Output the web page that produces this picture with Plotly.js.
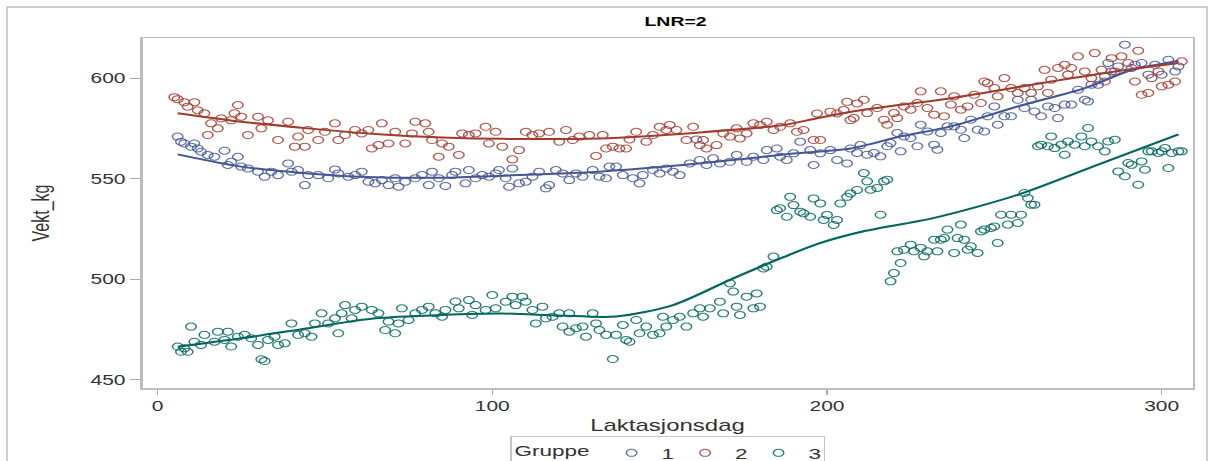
<!DOCTYPE html>
<html>
<head>
<meta charset="utf-8">
<script src="https://cdn.plot.ly/plotly-3.0.1.min.js"></script>
<style>
  html, body { margin: 0; padding: 0; background: #ffffff; overflow: hidden; }
  #wrap { position: absolute; left: 0; top: 0; width: 808px; height: 461px;
          transform: scaleX(1.5); transform-origin: 0 0; }
  #chart { width: 808px; height: 461px; }
  #frame { position: absolute; left: 6px; top: 6px; width: 1198px; height: 480px;
           border: 2px solid #cfcfcf; pointer-events: none; }
</style>
</head>
<body>
<div id="wrap"><div id="chart"></div></div>
<div id="frame"></div>
<script>
// Daily body weight (kg) by lactation day, three groups (LNR=2)
const days1 = [6,7,8,10,11,12,13,15,17,20,21,22,24,25,27,30,32,34,36,39,40,42,44,45,48,51,53,54,57,59,61,63,65,67,69,71,72,74,77,79,81,82,84,86,88,89,92,93,95,97,99,101,
  102,104,105,106,108,110,112,114,116,117,119,121,123,125,127,130,132,134,135,137,139,142,144,145,148,150,152,154,156,159,161,162,164,166,168,171,173,176,178,181,182,185,186,188,190,192,195,196,198,201,203,206,207,
  209,210,212,214,216,218,219,221,222,223,225,227,228,230,232,233,234,236,238,240,241,243,245,247,248,250,251,253,255,257,259,261,262,264,266,268,269,271,273,275,277,278,279,281,283,284,285,287,289,291,292,294,296,298,300,302,304,305];
const kg1 = [570.9,568.4,567.5,565.9,567.5,565,563.4,561.8,560.9,563.9,556.8,558.4,560.9,556,555.1,553.5,551,553.5,551.8,557.6,553.5,554.3,546.8,551.8,551.8,550.2,554.6,552.6,551,551.8,553.5,548.5,547.7,549.3,546.8,550.2,546,548.5,550.2,551.8,546.8,553.5,550.2,546.4,551.8,553.5,547.7,554.3,550.2,551.8,551,552.6,
  554.3,550.2,546,555.1,547.7,548.5,551,553.5,545.2,546.8,554.3,552.6,549.3,552.6,551,554.3,551,550.2,556,556,551.8,550.2,547.7,551.8,554.3,552.6,555.1,553.5,551.8,557.6,569.5,559.3,556.8,560.1,557.6,558.4,561.8,558.4,560.9,559.3,564.2,565,560.9,559.3,562.6,568.4,564.2,556.8,562.6,564.2,559.3,557.6,565,
  562.8,566.7,561.9,562.8,561.1,566.1,567.7,572.7,563.6,571,570.2,566.1,576.8,573.5,566.9,564.4,572.7,576,576,574.3,570.2,579.3,574.3,573.5,581,585.9,576.8,581,581,589.2,585.1,589.2,583.4,581,585.9,585.1,580.1,586.8,586.8,594.2,589.2,588.4,596.7,596.7,600.8,607.5,603.3,605.8,616.6,605,606.6,607.5,601.7,606.6,601.7,609.1,603.3,605.8];

const days2 = [5,6,8,9,11,12,14,15,16,18,19,22,23,24,25,27,30,31,33,36,39,41,42,44,45,48,50,53,54,56,59,61,63,64,66,67,69,71,74,76,77,80,81,82,84,85,87,90,91,93,95,98,99,101,103,
  106,108,110,112,114,117,120,122,124,126,129,131,133,134,136,138,140,141,143,146,148,150,152,153,155,158,160,162,163,164,167,169,171,173,174,176,178,180,182,184,186,189,191,193,196,198,197,201,203,205,206,207,209,
  208,211,212,215,217,218,220,221,223,225,227,228,230,232,234,235,237,238,240,242,244,246,247,248,250,251,253,255,257,259,261,263,265,266,267,269,271,272,273,275,277,279,280,282,283,285,286,288,290,292,293,294,296,297,299,300,302,304,306];
const kg2 = [590.5,589.5,588,585.8,588,584,582.5,571.7,577.5,575,580,579,582.5,586.6,580.8,571.7,580.8,575,579,569.2,578.3,565.9,570.9,565.9,574.2,569.2,573.3,577.5,569.2,571.7,574.2,572.5,574.2,565,566.7,577.5,567.5,573.3,567.5,572.5,578.3,577.5,573.3,569.2,560.9,567.5,565.9,561.8,572.5,571.7,572.5,575.8,567.5,573.3,565.9,
  559.6,564.2,573.3,571.7,572.5,573.3,568.4,574.2,569.2,570.9,571.7,561.3,571.7,565,565.9,565,565,569.5,573.3,568.4,571.7,575.8,574.2,576.7,574.2,569.2,575.8,566.7,569.2,565,566.7,572.5,570.9,575,570,572.5,577.5,576.7,578.3,574.2,575.8,577.5,573.3,574.2,569.2,569.2,582.4,583.3,582.4,584.1,588.2,579.1,587.4,
  580.1,589.2,582.6,585.1,579.3,576.8,582.6,580.1,585.9,584.3,587.6,593.4,585.1,581.8,593.4,581,586.8,590.9,584.3,585.9,591.7,587.6,598.3,597.5,595,590.9,600,595,592.6,595,592.6,595.9,604.1,592.6,599.2,605,606.6,601.7,605,610.8,603.3,600,612.4,604.1,598.3,609.9,603.3,610.8,607.5,598.3,613.6,591.7,592.6,600,603.3,595.9,596.7,598.3,608.3];

const days3 = [6,7,8,9,10,11,13,14,17,18,20,21,22,24,26,28,30,31,32,33,35,36,38,40,42,44,46,47,49,51,53,54,55,56,58,59,61,64,66,68,69,71,72,73,75,77,79,81,83,85,86,89,90,93,94,95,98,100,101,
  104,106,107,109,110,112,113,115,116,118,120,121,123,123,125,127,128,130,131,132,134,136,137,139,140,141,143,144,146,148,150,151,152,154,156,158,160,162,163,165,168,169,171,172,173,174,176,178,179,180,181,182,184,185,186,188,189,190,192,193,195,196,198,199,200,202,203,204,206,207,209,
  211,212,213,215,216,217,218,219,220,221,222,223,225,226,228,229,230,232,233,234,235,236,238,239,240,241,242,243,245,246,247,249,250,251,252,254,255,257,258,259,260,261,262,263,264,266,267,268,270,271,272,274,276,277,278,279,281,283,284,286,287,289,290,291,293,294,295,296,297,299,300,301,302,303,305,306];
const kg3 = [466.6,464,465.7,464,476.5,469,467.4,472.4,469,474,469.9,474,466.6,471.5,472.4,470.7,467.4,460.3,459.4,469.9,471.5,467.4,468.2,478.1,472.4,473.2,471.5,478.1,483.1,478.1,480.6,473.2,483.1,487.2,480.6,484.8,486.4,484.8,483.1,474.8,479,473.2,478.1,485.6,479.8,483.1,484.8,486.4,483.1,481.4,484.8,489,485.6,489.7,482.3,487.2,484.8,492.2,485.6,
  488.9,491.4,487.2,491.4,488.9,484.8,478.1,486.4,480.6,481.4,483.1,476.5,483.1,474,475.7,476.5,471.5,483.1,478.1,474.8,472.4,460.4,472.4,477.3,469.9,469,479.8,473.2,476.5,472.4,473.2,481.4,476.5,479.8,481.4,476.5,483.1,485.6,481.4,485.6,488.9,483.1,498,493.9,486.4,482.3,491.4,485.6,493,486.4,505.4,506.3,511.3,534.4,535.3,531.1,541,536.9,533.6,532.8,531.1,540.2,537.7,529.5,532,527,529.5,537.7,541,542.7,544.4,
  552.8,548.7,544.5,545.4,532.1,548.7,549.5,499,503.1,513.9,508.1,514.7,517.2,513.9,515.6,511.4,513.9,519.7,513.9,519.7,520.5,524.7,513.1,520.5,527.2,519.7,514.7,516.4,513.1,523.8,524.7,525.5,526.3,518.1,532.1,527.2,532.1,528,532.1,542.9,540.4,537.1,537.1,566.1,566.9,566.1,571,565.2,566.9,561.9,568.5,566.9,571,566.1,575.2,568.5,566.1,563.6,568.5,569.4,553.6,551.2,557.8,556.9,547,558.6,554.5,563.6,563.6,562.8,563.6,565.2,555.3,562.8,563.6,563.6];

// Smoothed trend per group
const fitDays1 = [6,25,45,65,85,103,132,152,172,190,207,222,237,257,277,291,305];
const fitKg1   = [562.1,556,552.6,550.7,550.5,551.5,553.5,556,559.3,562.5,565,571,576,585.9,595,604,608.5];
const fitDays2 = [6,25,45,65,85,103,132,162,187,197,210,237,267,286,305];
const fitKg2   = [582.5,578.3,575,572.2,570.5,569.8,570,573,576.7,580,584,590,598.3,603.3,607.5];
const fitDays3 = [6,25,45,65,85,103,120,137,154,172,187,197,210,232,257,281,305];
const fitKg3   = [466.5,470.7,475.7,480.6,482.3,483,482,481.5,487.2,500.5,511,517.5,523.5,530.5,542,557,572];

const groupNames = ['1', '2', '3'];
const groupColors = ['#445694', '#A23A2E', '#01665E'];
const xTicks = [0, 100, 200, 300];
const yTicks = [450, 500, 550, 600];

const pts = [[days1, kg1], [days2, kg2], [days3, kg3]];
const fits = [[fitDays1, fitKg1], [fitDays2, fitKg2], [fitDays3, fitKg3]];

const traces = [];
pts.forEach(([x, y], i) => {
  traces.push({
    type: 'scatter', mode: 'markers', x: x, y: y, name: groupNames[i],
    marker: { symbol: 'circle-open', size: 7, color: groupColors[i], opacity: 0.85,
              line: { width: 1, color: groupColors[i] } },
    showlegend: true
  });
});
fits.forEach(([x, y], i) => {
  traces.push({
    type: 'scatter', mode: 'lines', x: x, y: y, name: groupNames[i],
    line: { color: groupColors[i], width: 2, shape: 'spline', smoothing: 0.8 },
    showlegend: false, hoverinfo: 'skip'
  });
});

const axisBase = {
  showgrid: false, zeroline: false, showline: true, mirror: true,
  linecolor: '#bdbdbd', linewidth: 1.5,
  ticks: 'outside', tickcolor: '#a8a8a8', tickwidth: 1,
  tickfont: { family: 'Arial, "Liberation Sans", sans-serif', size: 14, color: '#333333' }
};

const layout = {
  width: 808, height: 461,
  margin: { l: 95.3, r: 12.7, t: 38, b: 73, autoexpand: false },
  paper_bgcolor: '#ffffff', plot_bgcolor: '#ffffff',
  font: { family: 'Arial, "Liberation Sans", sans-serif', color: '#333333' },
  title: { text: '<b>LNR=2</b>', font: { size: 13, color: '#000000' },
           x: 0.5077, xref: 'paper', xanchor: 'center', y: 0.954, yref: 'container', yanchor: 'middle' },
  xaxis: Object.assign({}, axisBase, {
    range: [-4.5, 309.2], tickvals: xTicks, ticktext: xTicks.map(String), ticklen: 5,
    title: { text: 'Laktasjonsdag', font: { size: 16, color: '#333333' }, standoff: 6 }
  }),
  yaxis: Object.assign({}, axisBase, {
    range: [446, 619.9], tickvals: yTicks, ticktext: yTicks.map(String), ticklen: 7,
    title: { text: 'Vekt_kg', font: { size: 16, color: '#333333' }, standoff: 23 }
  }),
  legend: {
    orientation: 'h', x: 0.5, xanchor: 'center', y: -0.136, yanchor: 'top',
    title: { text: 'Gruppe', side: 'left', font: { size: 15, color: '#333333' } },
    font: { size: 15, color: '#333333' },
    bordercolor: '#c4c4c4', borderwidth: 1, bgcolor: '#ffffff',
    itemwidth: 30, entrywidth: 4, entrywidthmode: 'pixels', tracegroupgap: 0
  },
  showlegend: true
};

Plotly.newPlot('chart', traces, layout, { staticPlot: true, displayModeBar: false });
</script>
</body>
</html>
